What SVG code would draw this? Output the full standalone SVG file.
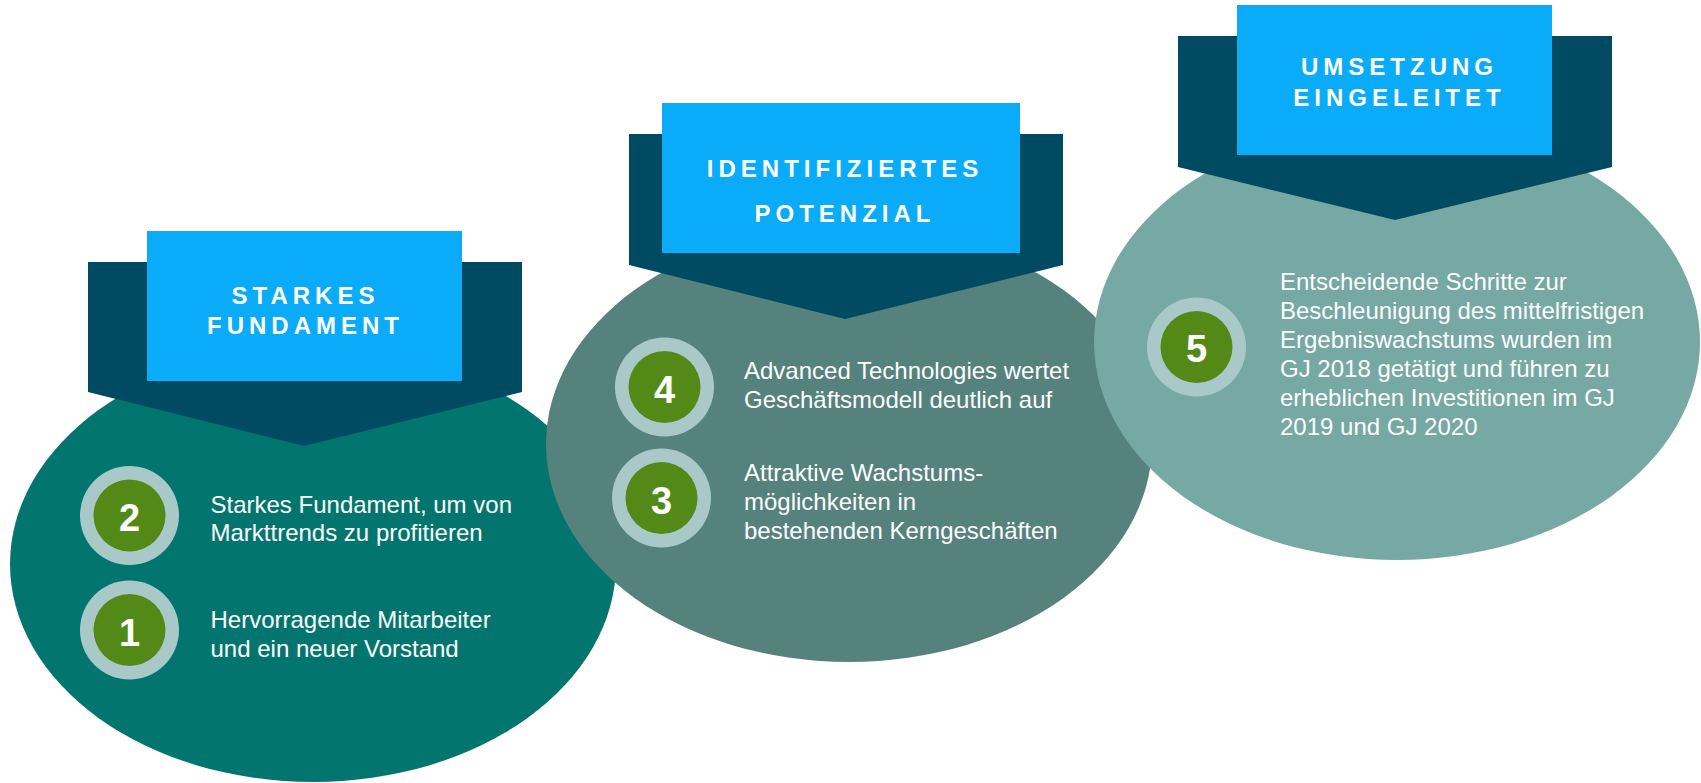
<svg xmlns="http://www.w3.org/2000/svg" width="1701" height="783" viewBox="0 0 1701 783">
<defs>
<style>
.banner{fill:#004B62}
.tab{fill:#0AABF8}
.title{font-family:"Liberation Sans",Arial,sans-serif;font-weight:bold;font-size:24px;letter-spacing:5px;fill:#FFFFFF;text-anchor:middle}
.body{font-family:"Liberation Sans",Arial,sans-serif;font-size:24px;fill:#FFFFFF}
.ring{fill:#A9C9C8}
.dot{fill:#538A17}
.num{font-family:"Liberation Sans",Arial,sans-serif;font-weight:bold;font-size:38px;fill:#FFFFFF;text-anchor:middle}
</style>
</defs>
<rect width="1701" height="783" fill="#FFFFFF"/>

<g id="node-starkes-fundament">
<ellipse cx="313" cy="564" rx="303" ry="218" fill="#02766E"/>
<polygon class="banner" points="88,262 522,262 522,392 304,446 88,392"/>
<rect class="tab" x="147" y="231" width="315" height="150"/>
<text class="title" x="305.5" y="304">STARKES</text>
<text class="title" x="305.5" y="334">FUNDAMENT</text>
<g id="item-2">
<circle class="ring" cx="129.5" cy="515.5" r="49.5"/>
<circle class="dot" cx="129.5" cy="515.5" r="36"/>
<text class="num" x="129.5" y="531">2</text>
<text class="body" x="210.5" y="512.5">Starkes Fundament, um von</text>
<text class="body" x="210.5" y="541">Markttrends zu profitieren</text>
</g>
<g id="item-1">
<circle class="ring" cx="129.5" cy="630" r="49.5"/>
<circle class="dot" cx="129.5" cy="630" r="36"/>
<text class="num" x="129.5" y="645.5">1</text>
<text class="body" x="210.5" y="628">Hervorragende Mitarbeiter</text>
<text class="body" x="210.5" y="657">und ein neuer Vorstand</text>
</g>
</g>

<g id="node-identifiziertes-potenzial">
<ellipse cx="849" cy="444" rx="303" ry="218" fill="#55827D"/>
<polygon class="banner" points="629,134 1063,134 1063,265 845,319 629,265"/>
<rect class="tab" x="662" y="103" width="358" height="150"/>
<text class="title" x="845" y="177">IDENTIFIZIERTES</text>
<text class="title" x="845" y="222">POTENZIAL</text>
<g id="item-4">
<circle class="ring" cx="664.5" cy="387" r="49.5"/>
<circle class="dot" cx="664.5" cy="387" r="36"/>
<text class="num" x="664.5" y="402.5">4</text>
<text class="body" x="744" y="378.5">Advanced Technologies wertet</text>
<text class="body" x="744" y="407.5">Geschäftsmodell deutlich auf</text>
</g>
<g id="item-3">
<circle class="ring" cx="661.5" cy="498" r="49.5"/>
<circle class="dot" cx="661.5" cy="498" r="36"/>
<text class="num" x="661.5" y="513.5">3</text>
<text class="body" x="744" y="481">Attraktive Wachstums-</text>
<text class="body" x="744" y="510">möglichkeiten in</text>
<text class="body" x="744" y="539">bestehenden Kerngeschäften</text>
</g>
</g>

<g id="node-umsetzung-eingeleitet">
<ellipse cx="1397" cy="342" rx="303" ry="218" fill="#76A8A4"/>
<polygon class="banner" points="1178,36 1612,36 1612,167 1395,220 1178,167"/>
<rect class="tab" x="1237" y="5" width="315" height="150"/>
<text class="title" x="1399.5" y="75">UMSETZUNG</text>
<text class="title" x="1399.5" y="106">EINGELEITET</text>
<g id="item-5">
<circle class="ring" cx="1196.5" cy="347" r="49.5"/>
<circle class="dot" cx="1196.5" cy="347" r="36"/>
<text class="num" x="1196.5" y="362">5</text>
<text class="body" x="1280" y="290">Entscheidende Schritte zur</text>
<text class="body" x="1280" y="319">Beschleunigung des mittelfristigen</text>
<text class="body" x="1280" y="348">Ergebniswachstums wurden im</text>
<text class="body" x="1280" y="377">GJ 2018 getätigt und führen zu</text>
<text class="body" x="1280" y="405.5">erheblichen Investitionen im GJ</text>
<text class="body" x="1280" y="434.5">2019 und GJ 2020</text>
</g>
</g>
</svg>
